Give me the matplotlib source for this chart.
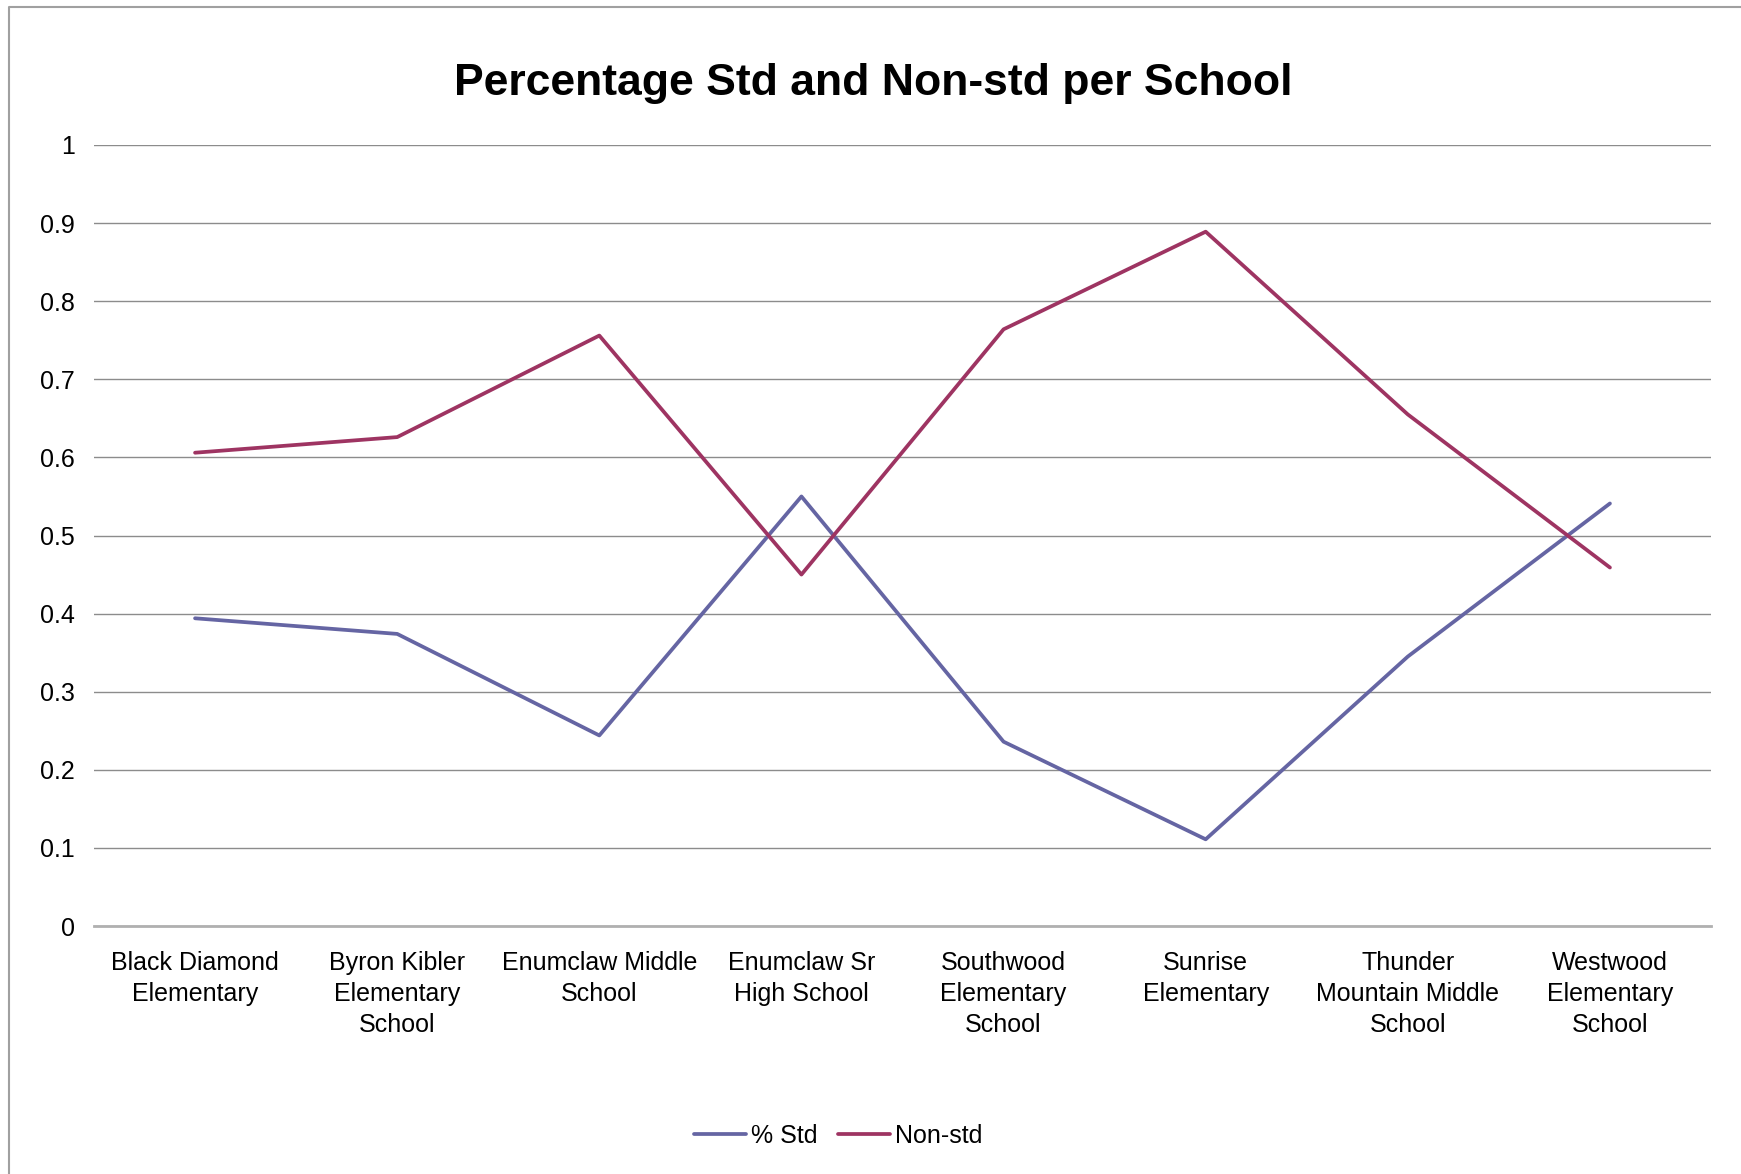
import matplotlib
matplotlib.use("Agg")
import matplotlib.pyplot as plt
from matplotlib.lines import Line2D

plt.rcParams['font.family'] = ['Liberation Sans', 'DejaVu Sans']

schools = ["Black Diamond\nElementary", "Byron Kibler\nElementary\nSchool",
           "Enumclaw Middle\nSchool", "Enumclaw Sr\nHigh School",
           "Southwood\nElementary\nSchool", "Sunrise\nElementary",
           "Thunder\nMountain Middle\nSchool", "Westwood\nElementary\nSchool"]
pct_std = [0.394, 0.374, 0.244, 0.550, 0.236, 0.111, 0.345, 0.541]
non_std = [0.606, 0.626, 0.756, 0.450, 0.764, 0.889, 0.655, 0.459]
yticks = [0, 0.1, 0.2, 0.3, 0.4, 0.5, 0.6, 0.7, 0.8, 0.9, 1]
ytick_labels = ["0", "0.1", "0.2", "0.3", "0.4", "0.5", "0.6", "0.7", "0.8", "0.9", "1"]

W, H = 1741, 1174
fig = plt.figure(figsize=(W / 100, H / 100), dpi=100)
ax = fig.add_axes([94 / W, 1 - 926 / H, (1711 - 94) / W, (926 - 145) / H])

x = list(range(len(schools)))
ax.plot(x, pct_std, color='#6565A3', lw=2.7, label='% Std', solid_capstyle='round')
ax.plot(x, non_std, color='#9E3462', lw=2.7, label='Non-std', solid_capstyle='round')

ax.set_xlim(-0.5, len(schools) - 0.5)
ax.set_ylim(0, 1)
ax.set_yticks(yticks)
ax.set_yticklabels(ytick_labels)
ax.set_xticks(x)
ax.set_xticklabels(schools, linespacing=1.36)
ax.tick_params(axis='both', length=0, labelsize=18)
ax.tick_params(axis='y', pad=14)
ax.tick_params(axis='x', pad=18)
ax.grid(axis='y', color='#8c8c8c', lw=1.0)
ax.set_axisbelow(True)
for s in ['top', 'right', 'left']:
    ax.spines[s].set_visible(False)
ax.spines['bottom'].set_color('#b0b0b0')
ax.spines['bottom'].set_linewidth(2.0)

fig.text(873 / W, 1 - 83 / H, "Percentage Std and Non-std per School",
         ha='center', va='center', fontsize=32, fontweight='bold')

fig.legend(loc='center', bbox_to_anchor=(838 / W, 1 - 1136 / H), ncol=2,
           frameon=False, fontsize=18, handlelength=2.1, handletextpad=0.2,
           columnspacing=0.8)

fig.add_artist(Line2D([9 / W, 9 / W, 1], [0, 1 - 7 / H, 1 - 7 / H],
                      transform=fig.transFigure, color='#a0a0a0', lw=1.5))

fig.savefig("out.png", dpi=100, facecolor='white')
